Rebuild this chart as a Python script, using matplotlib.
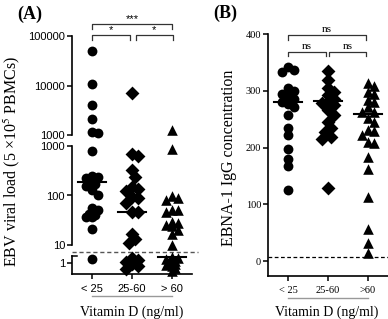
import matplotlib
matplotlib.use('Agg')
import matplotlib.pyplot as plt
import matplotlib.transforms as mtransforms
from matplotlib.lines import Line2D
import numpy as np

# ---- data ----
groups = ['< 25', '25-60', '> 60']
groups_b = ['< 25', '25-60', '>60']

# (A) EBV viral load, copies per 5x10^5 PBMCs
ebv_lt25 = [50000, 10500, 4000, 2100, 1150, 1100, 790, 250, 240, 225, 210, 200,
            190, 180, 170, 155, 130, 100, 57, 52, 43, 41, 36, 36, 21, 1.2]
ebv_25_60 = [6900, 700, 630, 320, 240, 150, 135, 125, 93, 87, 72, 47, 47,
             17, 13, 11, 1.25, 1.15, 1.05, 0.95, 0.85, 0.75]
ebv_gt60 = [1260, 870, 96, 90, 83, 52, 50, 46, 29, 28, 25, 24, 20, 17, 10,
            1.3, 1.25, 1.2, 1.15, 1.1, 1.05, 1.0, 0.95, 0.9, 0.85, 0.8, 0.7]
ebv_median = [185, 47, 1.3]
ebv_cutoff = 6

# (B) EBNA-1 IgG concentration
igg_lt25 = [342, 336, 333, 305, 300, 295, 290, 285, 280, 276, 272, 257, 234,
            222, 197, 180, 167, 125]
igg_25_60 = [335, 319, 305, 298, 293, 285, 280, 278, 275, 266, 257, 245, 234,
             228, 218, 215, 129]
igg_gt60 = [313, 308, 298, 295, 284, 280, 271, 263, 262, 252, 245, 231, 230,
            222, 210, 208, 183, 162, 113, 56, 32, 14]
igg_median = [280, 282, 259]
igg_cutoff = 8

markers = ['o', 'D', '^']
sizes = [50, 50, 58]

plt.rcParams['font.family'] = 'Liberation Serif'
plt.rcParams['mathtext.fontset'] = 'stix'

W, H = 388, 319
fig = plt.figure(figsize=(W / 100, H / 100), dpi=100)


def box(x0, y0, x1, y1):
    # pixel box (top-left origin) -> figure fraction rect
    return [x0 / W, 1 - y1 / H, (x1 - x0) / W, (y1 - y0) / H]


def swarm(vals, ypx, d=6.5, step=3.0, unit=40.0):
    # simple deterministic beeswarm, allows some overlap like the original
    placed = []
    order = np.argsort(vals)[::-1]
    res = np.zeros(len(vals))
    for i in order:
        y = ypx(vals[i])
        best, bestd = 0.0, -1
        for k in [0, 1, -1, 2, -2]:
            x = k * step
            dmin = min([np.hypot(x - px, y - py) for px, py in placed] + [99])
            if dmin >= d:
                best = x
                break
            if dmin > bestd + 1.5:
                best, bestd = x, dmin
        placed.append((best, y))
        res[i] = best / unit
    return res


def style(ax, fs=8, fam='Liberation Sans'):
    for s in ['top', 'right']:
        ax.spines[s].set_visible(False)
    for s in ['left', 'bottom']:
        ax.spines[s].set_linewidth(1.2)
    ax.tick_params(axis='both', direction='out', length=3.5, width=1.1,
                   labelsize=fs, pad=1.5)
    for lab in ax.get_xticklabels() + ax.get_yticklabels():
        lab.set_fontfamily(fam)
    ax.set_xlim(-0.5, 2.5)
    ax.patch.set_alpha(0)


# ---------------- panel A: broken log axis ----------------
ax_top = fig.add_axes(box(72, 36, 192, 135))
ax_mid = fig.add_axes(box(72, 146, 192, 245))
ax_bot = fig.add_axes(box(72, 256, 192, 274))
ax_top.set_ylim(1000, 100000)
ax_mid.set_ylim(10, 1000)
ax_bot.set_ylim(10 ** (-11 / 49.5), 10 ** (7 / 49.5))
for ax in (ax_top, ax_mid, ax_bot):
    ax.set_yscale('log')
    ax.minorticks_off()
ax_top.set_yticks([1000, 10000, 100000], ['1000', '10000', '100000'])
ax_mid.set_yticks([10, 100, 1000], ['10', '100', '1000'])
ax_bot.set_yticks([1], ['1'])
for ax in (ax_top, ax_mid):
    ax.spines['bottom'].set_visible(False)
    ax.set_xticks([])
ax_bot.set_xticks(range(3), groups)
style(ax_top)
style(ax_mid)
style(ax_bot)
ax_bot.tick_params(axis='x', pad=4)


def seg(v):
    if v > 1050:
        return ax_top
    if v >= 8:
        return ax_mid
    return ax_bot


ypx_log = lambda v: np.log10(v) * 49.5
for i, vals in enumerate([ebv_lt25, ebv_25_60, ebv_gt60]):
    offs = swarm(vals, ypx_log)
    for v, o in zip(vals, offs):
        seg(v).scatter(i + o, v, marker=markers[i], s=sizes[i], color='black',
                       linewidths=0, clip_on=False, zorder=3)
    m = ebv_median[i]
    seg(m).plot([i - 0.36, i + 0.36], [m, m], color='black', lw=1.5,
                clip_on=False, zorder=4)

# detection cutoff between middle and bottom segments
ax_mid.plot([0.0, 1.05], [-0.07, -0.07], transform=ax_mid.transAxes,
            color='#555555', lw=1, ls=(0, (3, 2)), clip_on=False)
# small cap at top of bottom segment
ax_bot.plot([0, 0.04], [1, 1], transform=ax_bot.transAxes, color='black',
            lw=1.1, clip_on=False)

# significance brackets
tA = mtransforms.blended_transform_factory(ax_top.transData, ax_top.transAxes)


def bracket(ax, tr, x0, x1, y, drop, label, fs, fam, dy):
    ax.plot([x0, x0, x1, x1], [y - drop, y, y, y - drop], color='#333333',
            lw=0.9, transform=tr, clip_on=False)
    ax.text((x0 + x1) / 2, y + dy, label, ha='center', va='bottom',
            fontsize=fs, family=fam, transform=tr)


bracket(ax_top, tA, 0, 2, 1.12, 0.05, '***', 8, 'Liberation Sans', 0.0)
bracket(ax_top, tA, 0, 0.95, 1.01, 0.05, '*', 8, 'Liberation Sans', 0.0)
bracket(ax_top, tA, 1.1, 2.02, 1.01, 0.05, '*', 8, 'Liberation Sans', 0.0)

fig.text(12 / W, 1 - 161 / H, 'EBV viral load (5 \u00d710$^{5}$ PBMCs)',
         rotation=90, ha='center', va='center', fontsize=11.5)
fig.text(30 / W, 1 - 14 / H, '(A)', ha='center', va='center', fontsize=13,
         fontweight='bold')

trA = mtransforms.blended_transform_factory(ax_bot.transData, fig.transFigure)
fig.add_artist(Line2D([0, 2], [1 - 296 / H] * 2, transform=trA,
                      color='#999999', lw=1))
fig.text(132 / W, 1 - 312 / H, 'Vitamin D (ng/ml)', ha='center', va='center',
         fontsize=10)

# ---------------- panel B ----------------
axb = fig.add_axes(box(268, 34, 388, 276))
axb.set_ylim(-26, 400)
axb.set_yticks([0, 100, 200, 300, 400])
axb.set_xticks(range(3), groups_b)
style(axb, fs=7.5, fam='Liberation Serif')
axb.tick_params(axis='x', pad=4)

ypx_lin = lambda v: v * 0.5675
for i, vals in enumerate([igg_lt25, igg_25_60, igg_gt60]):
    offs = swarm(vals, ypx_lin)
    axb.scatter(i + offs, vals, marker=markers[i], s=sizes[i], color='black',
                linewidths=0, clip_on=False, zorder=3)
    m = igg_median[i]
    axb.plot([i - 0.36, i + 0.36], [m, m], color='black', lw=1.5, zorder=4)

axb.axhline(igg_cutoff, color='black', lw=0.9, ls=(0, (3, 2)))

tB = mtransforms.blended_transform_factory(axb.transData, axb.transData)
bracket(axb, tB, 0, 1.95, 398, 9, 'ns', 8, 'Liberation Serif', 2)
bracket(axb, tB, 0, 0.95, 368, 7, 'ns', 8, 'Liberation Serif', 2)
bracket(axb, tB, 1.03, 1.95, 368, 7, 'ns', 8, 'Liberation Serif', 2)

fig.text(229 / W, 1 - 158 / H, 'EBNA-1 IgG concentration', rotation=90,
         ha='center', va='center', fontsize=11.5)
fig.text(225 / W, 1 - 13 / H, '(B)', ha='center', va='center', fontsize=13,
         fontweight='bold')

trB = mtransforms.blended_transform_factory(axb.transData, fig.transFigure)
fig.add_artist(Line2D([0, 2], [1 - 298 / H] * 2, transform=trB,
                      color='#999999', lw=1))
fig.text(327 / W, 1 - 312 / H, 'Vitamin D (ng/ml)', ha='center', va='center',
         fontsize=10)

fig.savefig('out.png', dpi=100)
